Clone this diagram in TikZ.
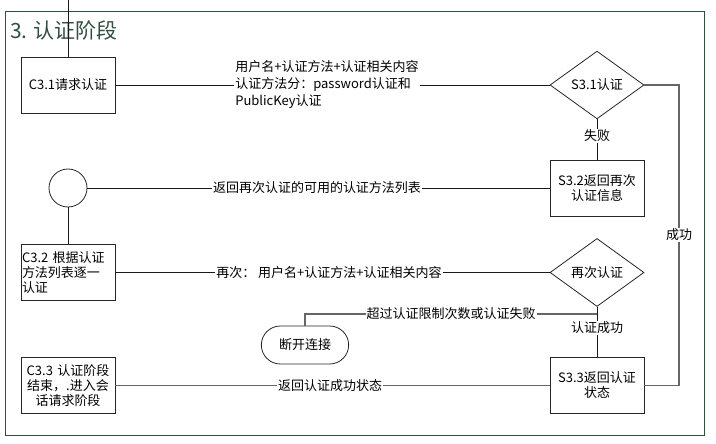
\documentclass[tikz,border=0pt]{standalone}
\usepackage{fontspec}
\setmainfont{Noto Sans CJK SC}
\usetikzlibrary{calc}
\usetikzlibrary{positioning}
\usetikzlibrary{shapes.geometric}
\usetikzlibrary{shapes.misc}

\definecolor{framegreen}{HTML}{2F4F3F}

\begin{document}
\begin{tikzpicture}[%
  x=1pt, y=-1pt,
  txt/.style={font=\fontsize{13}{15}\selectfont},
  box/.style={txt, draw=black!85, line width=0.9pt, fill=white,
    minimum width=94pt, minimum height=56pt, inner sep=1pt,
    text width=92pt, align=center},
  decide/.style={txt, diamond, draw=black!85, line width=0.8pt, fill=white,
    minimum width=94pt, minimum height=56pt, inner sep=1pt},
  stadium/.style={txt, rounded rectangle, draw=black!85, line width=0.8pt,
    fill=white, minimum width=94pt, minimum height=38pt},
  ring/.style={circle, draw=black!85, line width=0.8pt, fill=white,
    minimum size=38pt, inner sep=0pt},
  line/.style={draw=black!90, line width=0.8pt},
  gline/.style={draw=black!60, line width=1.1pt},
  lbl/.style={txt, fill=white, inner sep=1pt}
]

  \useasboundingbox (0,0) rectangle (716,444);

  % frame and title
  \draw[framegreen, line width=1pt] (5,12) rectangle (704,435);
  \node[anchor=west, text=framegreen, font=\fontsize{21}{24}\selectfont,
    inner sep=0pt] (title) at (10,30) {3. 认证阶段};

  \coordinate (top) at (68,0);
  \coordinate (rt) at (679,85);
  \coordinate (fork) at (597,314);

  \node[box] (c31) at (68,85) {C3.1请求认证};
  \node[ring] (circ) at (68,188) {};
  \node[box, align=left] (c32) at (68,272.5) {C3.2 根据认证\\方法列表逐一\\认证};
  \node[box] (c33) at (68,385.5) {C3.3 认证阶段\\结束，.进入会\\话请求阶段};

  \node[decide] (d31) at (597,85) {S3.1认证};
  \node[box] (s32) at (597,188) {S3.2返回再次\\认证信息};
  \node[decide] (d32) at (597,272.5) {再次认证};
  \node[box] (s33) at (597,385.5) {S3.3返回认证\\状态};
  \node[stadium] (bye) at (305,345) {断开连接};

  \draw[line] (top) -- (c31.north);
  \draw[line] (c31.east) -- (d31.west);
  \draw[line] (d31.south) -- (s32.north);
  \draw[line] (s32.west) -- (circ.east);
  \draw[line] (circ.south) -- (c32.north);
  \draw[line] (c32.east) -- (d32.west);
  \draw[line] (d32.south) -- (s33.north);
  \draw[gline] (fork) -| (bye.north);
  \draw[gline] (s33.west) -- (c33.east);
  \draw[gline] (d31.east) -- (rt) |- (s33.east);

  \node[lbl, align=left, font=\fontsize{13}{17}\selectfont] (l1) at (327,85)
    {用户名+认证方法+认证相关内容\\认证方法分：password认证和\\PublicKey认证};
  \node[lbl] (l2) at (317,188) {返回再次认证的可用的认证方法列表};
  \node[lbl] (l3) at (329,272.5) {再次： 用户名+认证方法+认证相关内容};
  \node[lbl] (l4) at (451,314) {超过认证限制次数或认证失败};
  \node[lbl] (l5) at (330,385.5) {返回认证成功状态};
  \node[lbl] (fail) at (597,136) {失败};
  \node[lbl] (ok) at (597,328) {认证成功};
  \node[lbl] (pass) at (679,235) {成功};

\end{tikzpicture}
\end{document}
